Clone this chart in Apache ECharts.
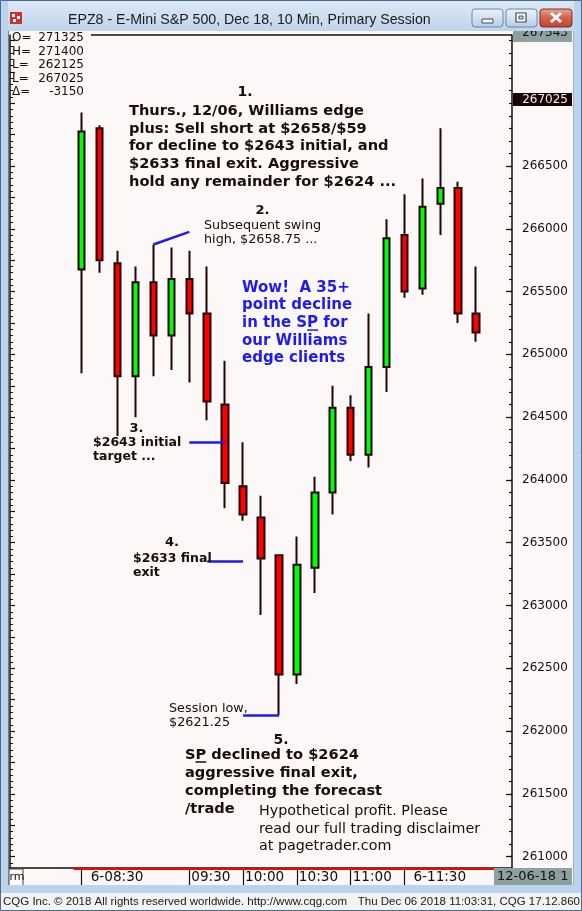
<!DOCTYPE html>
<html>
<head>
<meta charset="utf-8">
<script src="https://cdn.jsdelivr.net/npm/echarts@6/dist/echarts.min.js"></script>
<style>
html,body{margin:0;padding:0;background:#fdf8f8;}
#c{width:582px;height:911px;}
</style>
</head>
<body>
<div id="c"></div>
<script>
// ---- data ----
const categories = ['07:50','08:00','08:10','08:20','08:30','08:40','08:50','09:00','09:10','09:20',
  '09:30','09:40','09:50','10:00','10:10','10:20','10:30','10:40','10:50','11:00',
  '11:10','11:20','11:30','11:40','11:50','12:00','12:10','12:20','12:30'];
const barTimes = ['08:30','08:40','08:50','09:00','09:10','09:20','09:30','09:40','09:50','10:00',
  '10:10','10:20','10:30','10:40','10:50','11:00','11:10','11:20','11:30','11:40','11:50','12:00','12:10'];
const opens  = [265675,266800,265725,264825,265575,265150,265600,265325,264600,263950,263700,263400,262450,263300,263900,264575,264200,264900,265950,265525,266200,266325,265325];
const closes = [266775,265750,264825,265575,265150,265600,265325,264625,263975,263725,263375,262450,263325,263900,264575,264200,264900,265925,265500,266175,266325,265325,265175];
const lows   = [264850,265650,264350,264500,264825,264875,264775,264475,263775,263675,262925,262125,262375,263100,263725,264150,264100,264700,265450,265475,265950,265250,265100];
const highs  = [266925,266825,265825,265700,265875,265850,265825,265700,264950,264300,263875,263400,263550,264025,264750,264675,265325,266075,266275,266400,266800,266375,265700];

const tickTimes  = ['08:30','09:30','10:00','10:30','11:00','11:30'];
const tickLabels = ['6-08:30','09:30','10:00','10:30','11:00','6-11:30'];
const yLabelValues = [261000,261500,262000,262500,263000,263500,264000,264500,265000,265500,266000,266500];

const headerKeys = ['O=','H=','L=','L=','\u0394='];
const headerVals = ['271325','271400','262125','267025','-3150'];
const lastPrice = 267025;
const topPrice = 267543;
const yMin = 260910, yMax = 267543;

const swingLine  = [['09:10',265875],['09:30',265975]];
const targetLine = [['09:30',264300],['09:50',264300]];
const finalLine  = [['09:40',263350],['10:00',263350]];
const lowLine    = [['10:00',262125],['10:20',262125]];

// ---- helpers ----
const candleData = categories.map(c => {
  const i = barTimes.indexOf(c);
  return i < 0 ? '-' : [opens[i], closes[i], lows[i], highs[i]];
});
function range(step){ const a=[]; for(let v=Math.ceil(yMin/step)*step; v<=yMax; v+=step) a.push(v); return a; }
const dark = '#1a0c06';
const blue = '#1c1cf2';
const ctx = document.createElement('canvas').getContext('2d');
function tw(s, font){ ctx.font = font; return ctx.measureText(s).width; }

const boldF = 'bold 14.6px "DejaVu Sans"';
const wowF = 'bold 15px "DejaVu Sans"';
const wowX = 242, wowTop = 278.8, wowLH = 17.7;
const b5X = 185, b5Top = 746, b5LH = 18;
const u1x = wowX + tw('in the S', wowF), u1w = tw('P', wowF), u1y = wowTop + wowLH*2.5 + 7;
const u2x = b5X + tw('S', boldF), u2w = tw('P', boldF), u2y = b5Top + b5LH*0.5 + 7;

function txt(x, y, text, font, fill, align, valign, lh, z){
  return {type:'text', x:x, y:y, z:z||50, silent:true,
    style:{text:text, font:font, fill:fill||dark, align:align||'left', textAlign:align||'left',
      verticalAlign:valign||'middle', textVerticalAlign:valign||'middle', lineHeight:lh||undefined}};
}

const graphics = [];
// header values
headerKeys.forEach((k,i)=>{
  const y = 38 + i*13.5;
  graphics.push(txt(12, y, k, '12px "DejaVu Sans"', dark));
  graphics.push(txt(84, y, headerVals[i], '12px "DejaVu Sans"', dark, 'right'));
});
// top plot border
graphics.push({type:'line', z:40, silent:true, shape:{x1:91,y1:35,x2:512,y2:35}, style:{stroke:dark, lineWidth:1.5}});
// annotations
graphics.push(txt(245, 92.3, '1.', 'bold 14px "DejaVu Sans"', dark, 'center'));
graphics.push(txt(129, 102.1, 'Thurs., 12/06, Williams edge\nplus: Sell short at $2658/$59\nfor decline to $2643 initial, and\n$2633 final exit. Aggressive\nhold any remainder for $2624 ...', boldF, dark, 'left', 'top', 17.8));
graphics.push(txt(262.5, 211, '2.', 'bold 13px "DejaVu Sans"', dark, 'center'));
graphics.push(txt(204, 218.7, 'Subsequent swing\nhigh, $2658.75 ...', '12.8px "DejaVu Sans"', dark, 'left', 'top', 13.8));
graphics.push(txt(wowX, wowTop, 'Wow!  A 35+\npoint decline\nin the SP for\nour Williams\nedge clients', wowF, blue, 'left', 'top', wowLH));
graphics.push({type:'line', z:50, silent:true, shape:{x1:u1x,y1:u1y,x2:u1x+u1w,y2:u1y}, style:{stroke:blue, lineWidth:1.5}});
graphics.push(txt(136.5, 428.3, '3.', 'bold 13px "DejaVu Sans"', dark, 'center'));
graphics.push(txt(93, 435.7, '$2643 initial\ntarget ...', 'bold 12.5px "DejaVu Sans"', dark, 'left', 'top', 14));
graphics.push(txt(172, 543, '4.', 'bold 13px "DejaVu Sans"', dark, 'center'));
graphics.push(txt(133, 552, '$2633 final\nexit', 'bold 12.5px "DejaVu Sans"', dark, 'left', 'top', 14));
graphics.push(txt(169, 701.3, 'Session low,\n$2621.25', '12.8px "DejaVu Sans"', dark, 'left', 'top', 14));
graphics.push(txt(281, 740, '5.', 'bold 14px "DejaVu Sans"', dark, 'center'));
graphics.push(txt(b5X, b5Top, 'SP declined to $2624\naggressive final exit,\ncompleting the forecast\n/trade', boldF, dark, 'left', 'top', b5LH));
graphics.push({type:'line', z:50, silent:true, shape:{x1:u2x,y1:u2y,x2:u2x+u2w,y2:u2y}, style:{stroke:dark, lineWidth:1.5}});
graphics.push(txt(259, 803, 'Hypothetical profit. Please\nread our full trading disclaimer\nat pagetrader.com', '14.3px "DejaVu Sans"', dark, 'left', 'top', 17.5));
// red strip along bottom of plot
graphics.push({type:'rect', z:45, silent:true, shape:{x:73.5,y:868,width:430.5,height:2}, style:{fill:'#ff0000'}});
// "rm" box
graphics.push({type:'rect', z:45, silent:true, shape:{x:9,y:869,width:14,height:17}, style:{fill:'#ffffff', stroke:'#404040', lineWidth:1}});
graphics.push(txt(9.5, 877.5, 'rm', '11px "DejaVu Sans"', dark));
// date box
graphics.push({type:'rect', z:45, silent:true, shape:{x:494,y:868,width:78,height:17}, style:{fill:'#8e9fa0'}});
graphics.push(txt(497, 876.5, '12-06-18 1', '13px "DejaVu Sans"', '#101010'));
// window chrome
graphics.push({type:'rect', z:100, silent:true, shape:{x:0,y:0,width:582,height:31},
  style:{fill:new echarts.graphic.LinearGradient(0,0,0,1,[{offset:0,color:'#dce9f6'},{offset:1,color:'#bfd5ec'}])}});
graphics.push({type:'rect', z:100, silent:true, shape:{x:0,y:0,width:8,height:911}, style:{fill:'#bcd3ec'}});
graphics.push({type:'rect', z:100, silent:true, shape:{x:574,y:0,width:8,height:911}, style:{fill:'#bcd3ec'}});
graphics.push({type:'rect', z:100, silent:true, shape:{x:0,y:885,width:582,height:8}, style:{fill:'#bcd3ec'}});
graphics.push({type:'rect', z:100, silent:true, shape:{x:0,y:893,width:582,height:18}, style:{fill:'#f3f3f3'}});
graphics.push({type:'line', z:101, silent:true, shape:{x1:8.5,y1:31,x2:8.5,y2:885}, style:{stroke:'#6f7f90', lineWidth:1}});
graphics.push({type:'line', z:101, silent:true, shape:{x1:573.5,y1:31,x2:573.5,y2:885}, style:{stroke:'#9fb3c8', lineWidth:1}});
graphics.push({type:'rect', z:100, silent:true, shape:{x:0.5,y:0.5,width:581,height:910}, style:{fill:'none', stroke:'#4a6a8f', lineWidth:1}});
// title icon
graphics.push({type:'rect', z:101, silent:true, shape:{x:10,y:12,width:12,height:12}, style:{fill:'#d03030'}});
graphics.push({type:'rect', z:102, silent:true, shape:{x:12,y:14,width:3,height:3}, style:{fill:'#ffffff'}});
graphics.push({type:'rect', z:102, silent:true, shape:{x:17,y:16,width:3,height:3}, style:{fill:'#ffffff'}});
graphics.push({type:'rect', z:102, silent:true, shape:{x:13,y:19,width:3,height:3}, style:{fill:'#ffffff'}});
graphics.push(txt(68, 20, 'EPZ8 - E-Mini S&P 500, Dec 18, 10 Min, Primary Session', '14.2px "Liberation Sans"', '#1a1a1a', 'left', 'middle', 0, 102));
// buttons
const btnGrad = () => new echarts.graphic.LinearGradient(0,0,0,1,[{offset:0,color:'#eef3fa'},{offset:0.5,color:'#d4e1f1'},{offset:1,color:'#b7cbe4'}]);
graphics.push({type:'rect', z:101, silent:true, shape:{x:472,y:9,width:31,height:18,r:3}, style:{fill:btnGrad(), stroke:'#6d87a8', lineWidth:1}});
graphics.push({type:'rect', z:102, silent:true, shape:{x:482,y:19,width:11,height:4}, style:{fill:'#ffffff', stroke:'#3b4a5c', lineWidth:1}});
graphics.push({type:'rect', z:101, silent:true, shape:{x:506,y:9,width:31,height:18,r:3}, style:{fill:btnGrad(), stroke:'#6d87a8', lineWidth:1}});
graphics.push({type:'rect', z:102, silent:true, shape:{x:516,y:13,width:10,height:9}, style:{fill:'#ffffff', stroke:'#3b4a5c', lineWidth:1.2}});
graphics.push({type:'rect', z:103, silent:true, shape:{x:519,y:16,width:4,height:3}, style:{fill:'#d4e1f1', stroke:'#3b4a5c', lineWidth:1}});
graphics.push({type:'rect', z:101, silent:true, shape:{x:540,y:9,width:32,height:18,r:3},
  style:{fill:new echarts.graphic.LinearGradient(0,0,0,1,[{offset:0,color:'#e9a596'},{offset:0.5,color:'#d0614b'},{offset:1,color:'#c2452c'}]), stroke:'#7e2e22', lineWidth:1}});
graphics.push({type:'line', z:102, silent:true, shape:{x1:551,y1:13,x2:561,y2:22}, style:{stroke:'#ffffff', lineWidth:3}});
graphics.push({type:'line', z:102, silent:true, shape:{x1:561,y1:13,x2:551,y2:22}, style:{stroke:'#ffffff', lineWidth:3}});
// status bar
graphics.push(txt(3, 902, 'CQG Inc. \u00a9 2018 All rights reserved worldwide. http://www.cqg.com', '11.5px "Liberation Sans"', '#202020', 'left', 'middle', 0, 102));
graphics.push(txt(580, 902, 'Thu Dec 06 2018 11:03:31, CQG 17.12.860', '11.5px "Liberation Sans"', '#202020', 'right', 'middle', 0, 102));

const chart = echarts.init(document.getElementById('c'), null, {renderer:'canvas'});
const isTick = (idx, val) => tickTimes.indexOf(val) >= 0;
const segStyle = {color:blue, width:2.5, type:'solid', opacity:1};
chart.setOption({
  animation:false,
  backgroundColor:'#fdf8f8',
  grid:{left:10, right:70, top:35, bottom:43, outerBoundsMode:'none', containLabel:false, show:false},
  xAxis:[{
    type:'category', data:categories, boundaryGap:false,
    axisLine:{show:true, lineStyle:{color:dark, width:1.5}},
    axisTick:{show:true, interval:isTick, length:17, lineStyle:{color:dark, width:1.2}},
    axisLabel:{show:true, interval:isTick, align:'left', margin:2,
      formatter:(v)=>{ const i = tickTimes.indexOf(v); const s = tickLabels[i]; return (s.indexOf('6-')===0?'{g1| }':'{g2| }') + '{t|'+s+'}'; },
      rich:{g1:{width:9, fontSize:13}, g2:{width:2, fontSize:13}, t:{fontFamily:'DejaVu Sans', fontSize:13.6, color:'#101010'}}},
    splitLine:{show:false}
  }],
  yAxis:[
    {type:'value', position:'right', min:yMin, max:yMax, scale:true,
      axisLine:{show:true, lineStyle:{color:dark, width:1.5}},
      axisTick:{show:true, inside:true, length:6, customValues:yLabelValues, lineStyle:{color:dark, width:1.2}},
      axisLabel:{show:true, customValues:yLabelValues, margin:10, fontFamily:'DejaVu Sans', fontSize:12, color:'#101010',
        formatter:(v)=>String(v)},
      splitLine:{show:false}},
    {type:'value', position:'right', min:yMin, max:yMax, scale:true,
      axisLine:{show:false}, axisLabel:{show:false}, splitLine:{show:false},
      axisTick:{show:true, inside:true, length:3, customValues:range(100), lineStyle:{color:dark, width:1.2}}},
    {type:'value', position:'left', min:yMin, max:yMax, scale:true,
      axisLine:{show:true, lineStyle:{color:dark, width:1.5}}, axisLabel:{show:false}, splitLine:{show:false},
      axisTick:{show:true, inside:true, length:5, customValues:range(250), lineStyle:{color:dark, width:1.2}}},
    {type:'value', position:'left', min:yMin, max:yMax, scale:true,
      axisLine:{show:false}, axisLabel:{show:false}, splitLine:{show:false},
      axisTick:{show:true, inside:true, length:3, customValues:range(50), lineStyle:{color:dark, width:1}}}
  ],
  series:[{
    type:'candlestick', data:candleData, barWidth:7,
    itemStyle:{color:'#00ff00', color0:'#ff0000', borderColor:'#220404', borderColor0:'#220404', borderWidth:2},
    markLine:{
      silent:true, symbol:['none','none'], animation:false,
      data:[
        [{coord:swingLine[0], lineStyle:segStyle, label:{show:false}}, {coord:swingLine[1]}],
        [{coord:targetLine[0], lineStyle:segStyle, label:{show:false}}, {coord:targetLine[1]}],
        [{coord:finalLine[0], lineStyle:segStyle, label:{show:false}}, {coord:finalLine[1]}],
        [{coord:lowLine[0], lineStyle:segStyle, label:{show:false}}, {coord:lowLine[1]}]
      ]
    }
  }],
  graphic:{elements:graphics}
});

// price boxes on the right axis, positioned through the axis scale
const yLastPx = chart.convertToPixel({yAxisIndex:0}, lastPrice);
const yTopPx = chart.convertToPixel({yAxisIndex:0}, topPrice);
const boxes = [
  {type:'rect', z:60, silent:true, shape:{x:513, y:yLastPx-7, width:59, height:13}, style:{fill:'#1a0202'}},
  txt(568, yLastPx-0.5, String(lastPrice), '12px "DejaVu Sans"', '#f0f0f0', 'right', 'middle', 0, 61),
  {type:'rect', z:60, silent:true, shape:{x:513, y:yTopPx-6, width:59, height:13}, style:{fill:'#8e9fa0'}},
  txt(568, yTopPx-2, String(topPrice), '12px "DejaVu Sans"', '#101010', 'right', 'middle', 0, 61)
];
chart.setOption({graphic:{elements:graphics.concat(boxes)}});
</script>
</body>
</html>
